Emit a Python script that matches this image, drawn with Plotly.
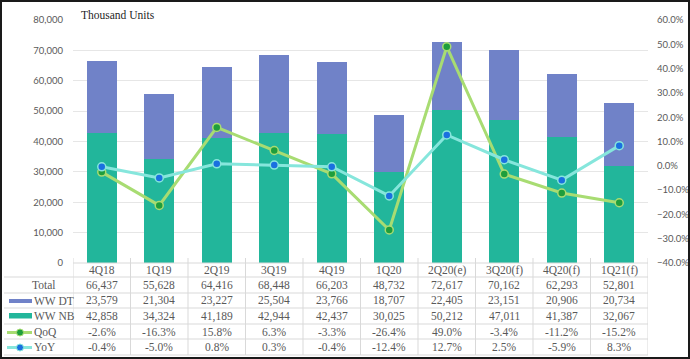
import plotly.graph_objects as go

categories = ["4Q18", "1Q19", "2Q19", "3Q19", "4Q19", "1Q20", "2Q20(e)", "3Q20(f)", "4Q20(f)", "1Q21(f)"]
total = [66437, 55628, 64416, 68448, 66203, 48732, 72617, 70162, 62293, 52801]
ww_dt = [23579, 21304, 23227, 25504, 23766, 18707, 22405, 23151, 20906, 20734]
ww_nb = [42858, 34324, 41189, 42944, 42437, 30025, 50212, 47011, 41387, 32067]
qoq = [-2.6, -16.3, 15.8, 6.3, -3.3, -26.4, 49.0, -3.4, -11.2, -15.2]
yoy = [-0.4, -5.0, 0.8, 0.3, -0.4, -12.4, 12.7, 2.5, -5.9, 8.3]

NB_COLOR = "#22b69b"
DT_COLOR = "#7082c8"
QOQ_LINE = "#a8dc72"
QOQ_MARK = "#1e9e3c"
YOY_LINE = "#86e6dc"
YOY_MARK = "#1a70e0"
TXT = "#595959"
GRID = "#e6e6e6"
SERIF = "Liberation Serif"
SANS = "Lato"

W, H = 690, 359
L, R, T, B = 73, 42, 20, 96
PW, PH = W - L - R, H - T - B
bottom_px = T + PH


def px(p):
    return (p - L) / PW


def py(p):
    return (bottom_px - p) / PH


fig = go.Figure()
fig.add_trace(go.Bar(x=categories, y=ww_nb, name="WW NB", marker=dict(color=NB_COLOR, line=dict(width=0))))
fig.add_trace(go.Bar(x=categories, y=ww_dt, name="WW DT", marker=dict(color=DT_COLOR, line=dict(width=0))))
fig.add_trace(go.Scatter(x=categories, y=[v / 100 for v in qoq], name="QoQ", yaxis="y2", mode="lines+markers",
                         line=dict(color=QOQ_LINE, width=3),
                         marker=dict(color=QOQ_MARK, size=8, line=dict(color=QOQ_LINE, width=1.5))))
fig.add_trace(go.Scatter(x=categories, y=[v / 100 for v in yoy], name="YoY", yaxis="y2", mode="lines+markers",
                         line=dict(color=YOY_LINE, width=3),
                         marker=dict(color=YOY_MARK, size=8, line=dict(color=YOY_LINE, width=1.5))))

shapes = []
annotations = []

# table row boundaries (pixels)
row_lines = [263, 277, 293, 308, 324, 339, 355]
row_centers = [270, 285, 300.5, 316, 331.5, 347]
line_style = dict(color="#d9d9d9", width=1)
for i, yl in enumerate(row_lines):
    x0 = px(73) if i == 0 else px(4)
    shapes.append(dict(type="line", xref="paper", yref="paper", x0=x0, x1=1, y0=py(yl), y1=py(yl), line=line_style))
for i in range(len(categories) + 1):
    shapes.append(dict(type="line", xref="x", yref="paper", x0=i - 0.5, x1=i - 0.5,
                       y0=py(258), y1=py(355), line=line_style))

# header row
for c in categories:
    annotations.append(dict(x=c, xref="x", y=py(row_centers[0]), yref="paper", text=c, showarrow=False,
                            font=dict(family=SERIF, size=11.5, color=TXT), yanchor="middle"))
rows = [
    [f"{v:,}" for v in total],
    [f"{v:,}" for v in ww_dt],
    [f"{v:,}" for v in ww_nb],
    [f"{v:.1f}%" for v in qoq],
    [f"{v:.1f}%" for v in yoy],
]
for r, vals in enumerate(rows):
    for c, t in zip(categories, vals):
        annotations.append(dict(x=c, xref="x", y=py(row_centers[r + 1]), yref="paper", text=t, showarrow=False,
                                font=dict(family=SERIF, size=11.5, color=TXT), yanchor="middle"))

# row labels
annotations.append(dict(x=px(43), xref="paper", y=py(row_centers[1]), yref="paper", text="Total", showarrow=False,
                        font=dict(family=SERIF, size=11.5, color=TXT), xanchor="center", yanchor="middle"))
for r, lab in zip([2, 3, 4, 5], ["WW DT", "WW NB", "QoQ", "YoY"]):
    annotations.append(dict(x=px(32), xref="paper", y=py(row_centers[r]), yref="paper", text=lab, showarrow=False,
                            font=dict(family=SERIF, size=11.5, color=TXT), xanchor="left", yanchor="middle"))

# legend keys
shapes.append(dict(type="rect", xref="paper", yref="paper", x0=px(9), x1=px(32), y0=py(303), y1=py(299),
                   fillcolor=DT_COLOR, line=dict(width=0)))
shapes.append(dict(type="rect", xref="paper", yref="paper", x0=px(9), x1=px(32), y0=py(318.5), y1=py(313),
                   fillcolor=NB_COLOR, line=dict(width=0)))
for yc, lc, mc in [(332.5, QOQ_LINE, QOQ_MARK), (347.5, YOY_LINE, YOY_MARK)]:
    shapes.append(dict(type="line", xref="paper", yref="paper", x0=px(7), x1=px(32), y0=py(yc), y1=py(yc),
                       line=dict(color=lc, width=3)))
    shapes.append(dict(type="circle", xref="paper", yref="paper", x0=px(16.5), x1=px(23.5), y0=py(yc + 3.5),
                       y1=py(yc - 3.5), fillcolor=mc, line=dict(color=lc, width=1)))

# outer frame
shapes.append(dict(type="rect", xref="paper", yref="paper", x0=px(1), x1=px(689), y0=py(358), y1=py(1),
                   line=dict(color="#1a1a1a", width=2)))

annotations.append(dict(x=px(79), xref="paper", y=py(15), yref="paper", text="Thousand Units", showarrow=False,
                        font=dict(family=SERIF, size=11.5, color="#262626"), xanchor="left", yanchor="middle"))

fig.update_layout(
    width=W, height=H,
    margin=dict(l=L, r=R, t=T, b=B, pad=0, autoexpand=False),
    paper_bgcolor="white", plot_bgcolor="white",
    barmode="stack", bargap=0.48,
    showlegend=False,
    xaxis=dict(type="category", showticklabels=False, showgrid=False, zeroline=False, showline=False,
               automargin=False, range=[-0.5, len(categories) - 0.5]),
    yaxis=dict(range=[0, 80000], dtick=10000, tickformat=",", showgrid=True, gridcolor=GRID, gridwidth=1,
               zeroline=False, showline=False, ticklabelstandoff=9, automargin=False,
               tickfont=dict(family=SANS, size=9.5, color=TXT)),
    yaxis2=dict(range=[-0.4, 0.6], dtick=0.1, tickformat=".1%", overlaying="y", side="right", showgrid=False,
                zeroline=False, showline=False, ticklabelstandoff=8, automargin=False,
                tickfont=dict(family=SANS, size=9.5, color=TXT)),
    shapes=shapes,
    annotations=annotations,
)

fig.write_html("out.html", config={"displayModeBar": False},
               post_script="document.body.style.margin='0';document.body.style.overflow='hidden';")
